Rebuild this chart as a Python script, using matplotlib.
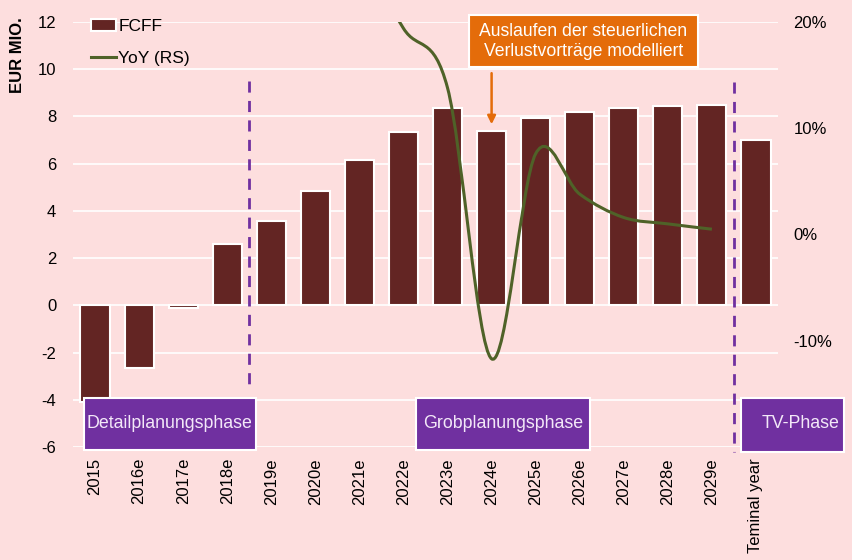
import matplotlib
matplotlib.use("Agg")
import matplotlib.pyplot as plt
from matplotlib.path import Path
from matplotlib.patches import PathPatch, Rectangle, Patch
from matplotlib.lines import Line2D
import numpy as np

plt.rcParams['font.family'] = ['Liberation Sans', 'DejaVu Sans']

categories = ["2015", "2016e", "2017e", "2018e", "2019e", "2020e", "2021e", "2022e",
              "2023e", "2024e", "2025e", "2026e", "2027e", "2028e", "2029e", "Teminal year"]
fcff = [-4.1, -2.65, -0.1, 2.58, 3.56, 4.83, 6.14, 7.34, 8.36, 7.37, 7.92, 8.2, 8.34, 8.43, 8.47, 6.99]
yoy_categories = ["2021e", "2022e", "2023e", "2024e", "2025e", "2026e", "2027e", "2028e", "2029e"]
yoy = [27.0, 19.4, 13.8, -11.7, 7.6, 3.8, 1.6, 1.0, 0.5]
left_ticks = [-6, -4, -2, 0, 2, 4, 6, 8, 10, 12]
right_ticks = [-20, -10, 0, 10, 20]

BG = "#FDDEDE"
BAR = "#632523"
GREEN = "#4F6228"
PURPLE = "#7030A0"
ORANGE = "#E46C0A"
BOXTXT = "#F3E8F8"

fig = plt.figure(figsize=(8.52, 5.6), dpi=100, facecolor=BG)
ax = fig.add_axes([73/852, 1-447/560, (778-73)/852, (447-22)/560])
ax.set_facecolor(BG)
x = np.arange(len(categories))
ax.bar(x, fcff, width=0.66, color=BAR, edgecolor="white", linewidth=1.5, zorder=3)
ax.set_xlim(-0.5, len(categories)-0.5)
ax.set_ylim(-6, 12)
ax.set_yticks(left_ticks)
ax.set_yticklabels([str(t) for t in left_ticks], fontsize=12)
ax.grid(axis="y", color="white", linewidth=1.2, zorder=0)
ax.set_axisbelow(True)
ax.set_xticks(x)
ax.set_xticklabels(categories, rotation=90, fontsize=12, va="top")
for s in ax.spines.values():
    s.set_visible(False)
ax.tick_params(axis="both", length=0, pad=8)
ax.tick_params(axis="y", pad=12)

ax2 = ax.twinx()
ax2.set_ylim(-20, 20)
ax2.set_yticks(right_ticks)
ax2.set_yticklabels([f"{t}%" for t in right_ticks], fontsize=12)
for s in ax2.spines.values():
    s.set_visible(False)
ax2.tick_params(axis="y", length=0, pad=11)

# smoothed YoY line (Excel-like Catmull-Rom Bezier)
px = np.array([categories.index(c) for c in yoy_categories], dtype=float)
py = np.array(yoy, dtype=float)
pts = np.column_stack([px, py])
verts = [pts[0]]
codes = [Path.MOVETO]
n = len(pts)
for i in range(n-1):
    p0 = pts[i-1] if i > 0 else pts[i]
    p1 = pts[i]
    p2 = pts[i+1]
    p3 = pts[i+2] if i+2 < n else pts[i+1]
    c1 = p1 + (p2 - p0) / 6
    c2 = p2 - (p3 - p1) / 6
    verts += [c1, c2, p2]
    codes += [Path.CURVE4]*3
ax2.add_patch(PathPatch(Path(verts, codes), fill=False, edgecolor=GREEN, linewidth=2.2, zorder=4))

# dashed phase separators
ax.plot([3.5, 3.5], [9.5, -3.4], color=PURPLE, linestyle=(0, (4, 3)), linewidth=2, zorder=5)
ax.plot([14.5, 14.5], [9.45, -6.2], color=PURPLE, linestyle=(0, (4, 3)), linewidth=2, zorder=5, clip_on=False)

# phase boxes
boxes = [("Detailplanungsphase", -0.25, 3.65, -6.12), ("Grobplanungsphase", 7.28, 11.23, -6.12),
         ("TV-Phase", 14.66, 17.0, -6.22)]
for label, x0, x1, yb in boxes:
    r = Rectangle((x0, yb), x1-x0, -3.94-yb, transform=ax.transData, facecolor=PURPLE,
                  edgecolor="white", linewidth=1.5, zorder=10, clip_on=False)
    ax2.add_patch(r)
tx = [(-0.25+3.65)/2, (7.28+11.23)/2, 16.02]
for (label, x0, x1, yb), t in zip(boxes, tx):
    ax2.text(t, -5.0, label, transform=ax.transData, ha="center", va="center",
             fontsize=12.8, color=BOXTXT, zorder=11, clip_on=False)

# annotation
ax2.add_patch(Rectangle((8.49, 10.08), 13.68-8.49, 12.3-10.08, transform=ax.transData,
                        facecolor=ORANGE, edgecolor="white", linewidth=1.5, zorder=10, clip_on=False))
ax2.text((8.49+13.68)/2, 11.19, "Auslaufen der steuerlichen\nVerlustvorträge modelliert",
         transform=ax.transData, ha="center", va="center", fontsize=12.7, color="white",
         zorder=11, linespacing=1.25)
ax2.annotate("", xy=(9, 7.55), xytext=(9, 9.95), xycoords=ax.transData, textcoords=ax.transData,
             arrowprops=dict(arrowstyle="-|>", color=ORANGE, lw=1.8, mutation_scale=12), zorder=11)

# legend
handles = [Patch(facecolor=BAR, edgecolor="white", linewidth=1.5),
           Line2D([0], [0], color=GREEN, linewidth=2.2)]
leg = ax2.legend(handles, ["FCFF", "YoY (RS)"], loc="upper left", bbox_to_anchor=(0.004, 1.045),
                 frameon=False, fontsize=12.5, handlelength=1.4, handletextpad=0.15, labelspacing=1.0)
leg.set_zorder(12)

fig.text(18/852, 1-55/560, "EUR MIO.", rotation=90, ha="center", va="center",
         fontsize=12, fontweight="bold")

fig.savefig("out.png", dpi=100, facecolor=BG)
